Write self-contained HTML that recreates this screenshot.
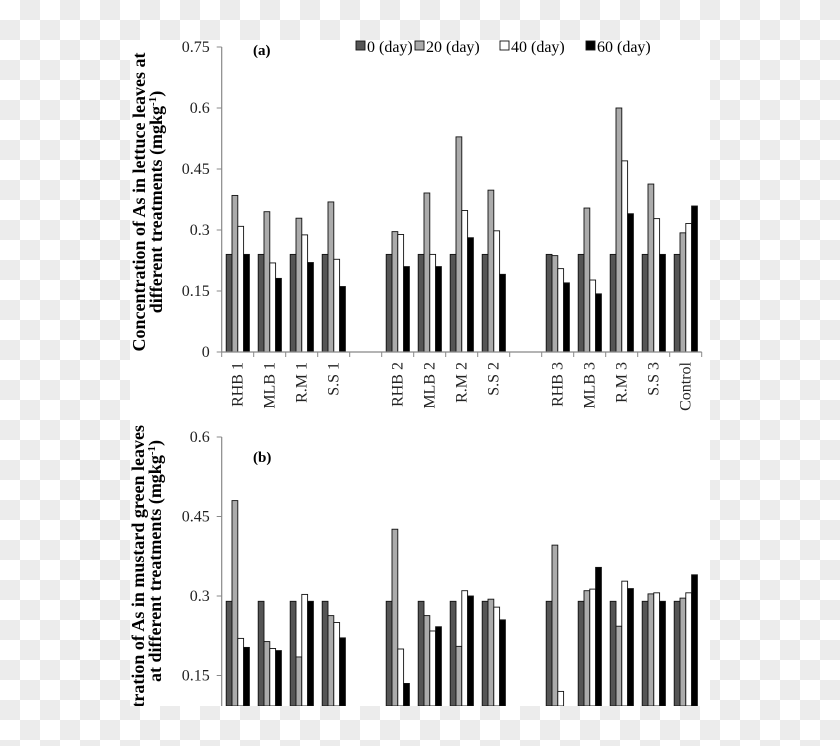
<!DOCTYPE html>
<html><head><meta charset="utf-8"><style>
html,body{margin:0;padding:0;background:#fff}
svg{display:block;font-family:"Liberation Serif",serif}
</style></head><body>
<svg id="c" width="840" height="746" viewBox="0 0 840 746">
<defs>
<pattern id="chk" width="40" height="40" patternUnits="userSpaceOnUse">
<rect width="40" height="40" fill="#fff"/><rect x="20" width="20" height="20" fill="#ececec"/><rect y="20" width="20" height="20" fill="#ececec"/>
</pattern>
<clipPath id="pc"><rect x="130" y="40" width="580" height="666"/></clipPath>
</defs>
<rect width="840" height="746" fill="url(#chk)"/>
<rect x="130" y="40" width="580" height="666" fill="#fff"/>
<g id="root" clip-path="url(#pc)"></g>
</svg>
<script>
const categories = ["RHB 1","MLB 1","R.M 1","S.S 1","","RHB 2","MLB 2","R.M 2","S.S 2","","RHB 3","MLB 3","R.M 3","S.S 3","Control"];
const seriesNames = ["0 (day)","20 (day)","40 (day)","60 (day)"];
const a0  = [0.24,0.24,0.24,0.24,null,0.24,0.24,0.24,0.24,null,0.24,0.24,0.24,0.24,0.24];
const a20 = [0.385,0.345,0.329,0.369,null,0.296,0.391,0.529,0.398,null,0.237,0.354,0.6,0.413,0.293];
const a40 = [0.309,0.219,0.288,0.228,null,0.289,0.24,0.348,0.298,null,0.205,0.177,0.47,0.328,0.316];
const a60 = [0.24,0.181,0.22,0.161,null,0.21,0.21,0.281,0.191,null,0.17,0.143,0.34,0.24,0.359];
const b0  = [0.29,0.29,0.29,0.29,null,0.29,0.29,0.29,0.29,null,0.29,0.29,0.29,0.29,0.29];
const b20 = [0.48,0.214,0.185,0.263,null,0.426,0.263,0.205,0.294,null,0.396,0.31,0.243,0.304,0.296];
const b40 = [0.22,0.201,0.303,0.25,null,0.2,0.234,0.31,0.279,null,0.12,0.313,0.328,0.306,0.306];
const b60 = [0.203,0.197,0.29,0.221,null,0.135,0.242,0.3,0.255,null,0.08,0.354,0.314,0.29,0.34];
const ticksA = [0,0.15,0.3,0.45,0.6,0.75];
const tickLabelsA = ["0","0.15","0.3","0.45","0.6","0.75"];
const ticksB = [0.15,0.3,0.45,0.6];
const tickLabelsB = ["0.15","0.3","0.45","0.6"];

const fills = ["#555","#ababab","#fff","#000"];
const NS="http://www.w3.org/2000/svg";
const root=document.getElementById('root');
function mk(tag,attrs,parent){const e=document.createElementNS(NS,tag);for(const k in attrs)e.setAttribute(k,attrs[k]);(parent||root).appendChild(e);return e;}
const X0=221.7, SLOT=32;
function xSlot(i){return X0+i*SLOT;}
function barX(i,s){return xSlot(i)+4.5+s*5.8;}

function panel(cfg){
  const y=v=>cfg.yBase-(v-cfg.vBase)*cfg.scale;
  const g=mk('g',{});
  
  
  const ax=mk('line',{x1:X0,y1:y(cfg.vTop),x2:X0,y2:cfg.axisBottom,stroke:'#888','stroke-width':1.2},g);
  
  
  cfg.ticks.forEach((t,k)=>{
    const ln=mk('line',{x1:X0-5,y1:y(t),x2:X0,y2:y(t),stroke:'#888'},g);
    
    
    const tx=mk('text',{x:X0-12,y:y(t)+5,'text-anchor':'end','font-size':16,fill:'#222'},g);
    tx.textContent=cfg.tickLabels[k];
    
    
  });
  cfg.series.forEach((arr,s)=>{
    arr.forEach((v,i)=>{
      if(v==null)return;
      const top=y(v), bot=cfg.barBottom;
      const r=mk('rect',{x:barX(i,s),y:top,width:5.8,height:Math.max(0,bot-top),fill:fills[s],stroke:'#111','stroke-width':0.9},g);
      
      
    });
  });
  if(cfg.xAxis){
    const xl=mk('line',{x1:X0,y1:cfg.barBottom,x2:X0+15*SLOT,y2:cfg.barBottom,stroke:'#888','stroke-width':1.2},g);
    
    
    for(let i=0;i<=15;i++){
      const t=mk('line',{x1:xSlot(i),y1:cfg.barBottom,x2:xSlot(i),y2:cfg.barBottom+5,stroke:'#888'},g);
      
      
    }
    categories.forEach((c,i)=>{
      if(!c)return;
      const cx=xSlot(i)+SLOT/2+5, cy=cfg.barBottom+10;
      const t=mk('text',{x:cx,y:cy,'text-anchor':'end','font-size':16,fill:'#222',transform:'rotate(-90 '+cx+' '+cy+')'},g);
      t.textContent=c;
      
      
    });
  }
}
panel({name:'panel-a-lettuce',key:'a',yBase:352,vBase:0,scale:61/0.15,vTop:0.75,axisBottom:352,barBottom:352,ticks:ticksA,tickLabels:tickLabelsA,series:[a0,a20,a40,a60],xAxis:true});
panel({name:'panel-b-mustard',key:'b',yBase:596,vBase:0.3,scale:79.5/0.15,vTop:0.6,axisBottom:706,barBottom:706,ticks:ticksB,tickLabels:tickLabelsB,series:[b0,b20,b40,b60],xAxis:false});

function txt(x,y,s,attrs,name){const t=mk('text',Object.assign({x:x,y:y},attrs||{}));t.textContent=s;return t;}
txt(253,55,'(a)',{'font-size':15,'font-weight':'bold'},'panel-a-label');
txt(253,462,'(b)',{'font-size':15,'font-weight':'bold'},'panel-b-label');
const legX=[356,415,500,586];
seriesNames.forEach((n,s)=>{
  const r=mk('rect',{x:legX[s],y:41,width:9,height:9,fill:fills[s],stroke:'#111','stroke-width':0.9});
  
  
  txt(legX[s]+11,52,n,{'font-size':16},'legend-entry-'+s);
});
const ta=mk('text',{x:0,y:0,'font-size':18,'font-weight':'bold','text-anchor':'middle',transform:'translate(145,202) rotate(-90)'});


ta.innerHTML='<tspan x="0" dy="0">Concentration of As in lettuce leaves at</tspan><tspan x="0" dy="17">different treatments (mgkg<tspan baseline-shift="super" font-size="11">-1</tspan>)</tspan>';
const tb=mk('text',{x:0,y:0,'font-size':18,'font-weight':'bold','text-anchor':'end',transform:'translate(144,425) rotate(-90)'});


tb.innerHTML='<tspan x="0" dy="0">Concentration of As in mustard green leaves</tspan><tspan x="-15" dy="17">at different treatments (mgkg<tspan baseline-shift="super" font-size="11">-1</tspan>)</tspan>';
</script>
</body></html>
